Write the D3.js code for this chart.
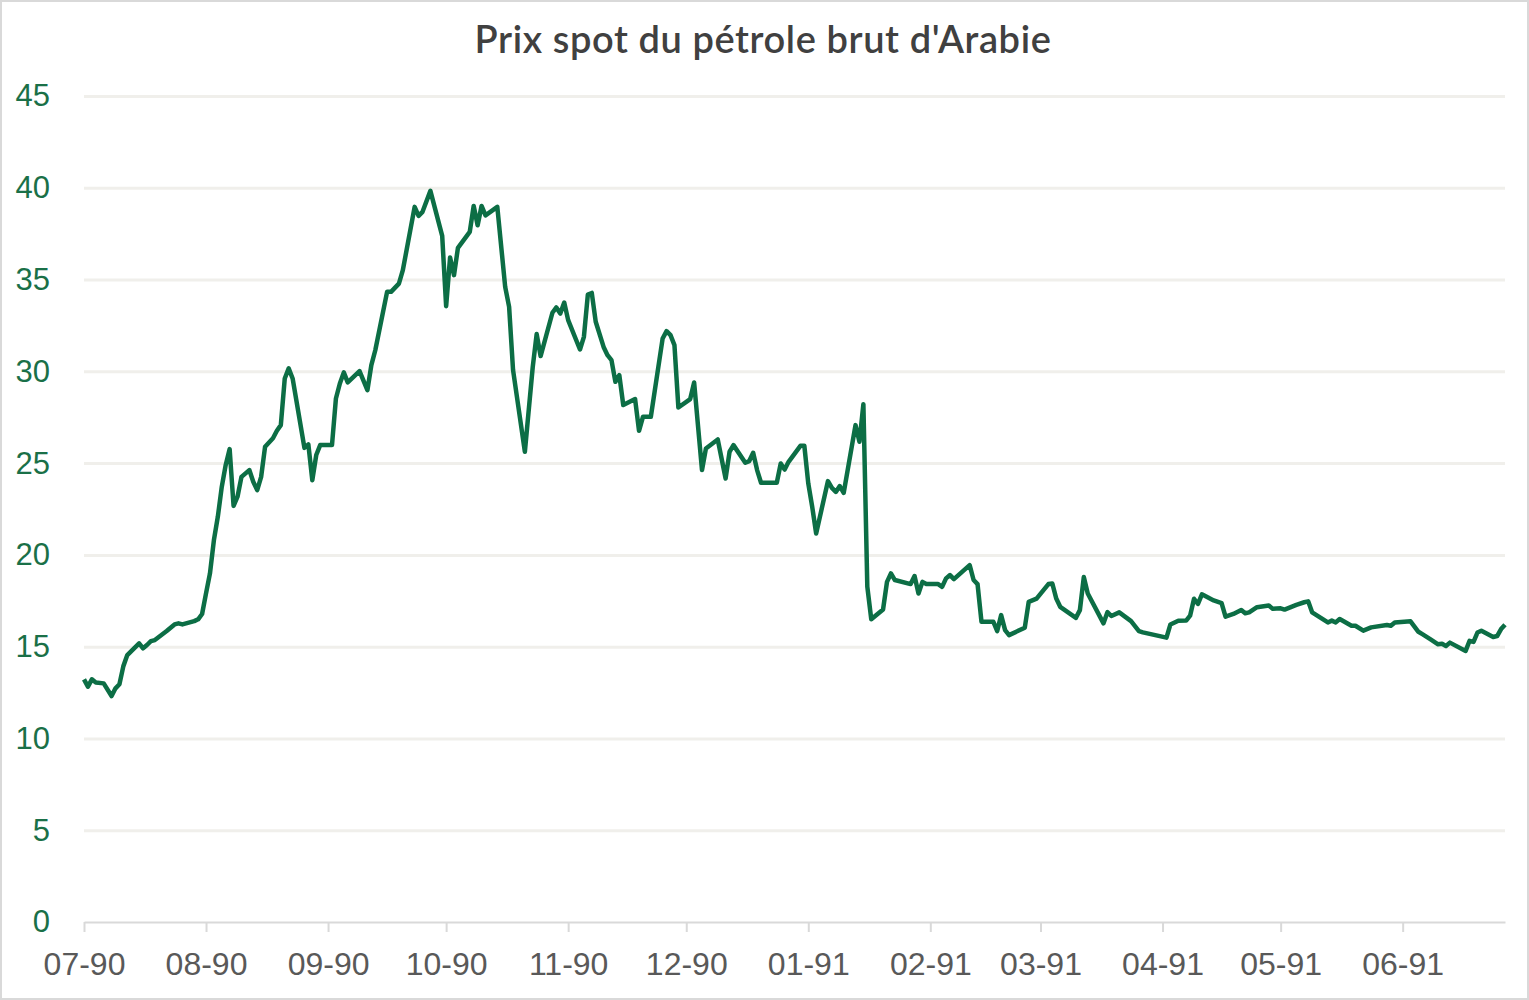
<!DOCTYPE html>
<html>
<head>
<meta charset="utf-8">
<script src="https://cdn.jsdelivr.net/npm/d3@7"></script>
<style>
  html, body { margin: 0; padding: 0; background: #fff; }
  svg { display: block; font-family: "Lato", "Open Sans", sans-serif; }
</style>
</head>
<body>
<div id="container"></div>
<script>
/* DATA */
const title = "Prix spot du pétrole brut d'Arabie";

const dates = [
  "1990-07-01","1990-07-02","1990-07-03","1990-07-04","1990-07-06","1990-07-08","1990-07-09","1990-07-10","1990-07-11","1990-07-12",
  "1990-07-15","1990-07-16","1990-07-17","1990-07-18","1990-07-19","1990-07-22","1990-07-24","1990-07-25","1990-07-26","1990-07-29",
  "1990-07-30","1990-07-31","1990-08-01","1990-08-02","1990-08-03","1990-08-04","1990-08-05","1990-08-06","1990-08-07","1990-08-08",
  "1990-08-09","1990-08-10","1990-08-12","1990-08-13","1990-08-14","1990-08-15","1990-08-16","1990-08-18","1990-08-19","1990-08-20",
  "1990-08-21","1990-08-22","1990-08-23","1990-08-26","1990-08-27","1990-08-28","1990-08-29","1990-08-30","1990-09-02","1990-09-03",
  "1990-09-04","1990-09-05","1990-09-06","1990-09-09","1990-09-11","1990-09-12","1990-09-13","1990-09-16","1990-09-17","1990-09-19",
  "1990-09-20","1990-09-23","1990-09-24","1990-09-25","1990-09-27","1990-09-30","1990-10-01","1990-10-02","1990-10-03","1990-10-04",
  "1990-10-07","1990-10-08","1990-10-09","1990-10-10","1990-10-11","1990-10-14","1990-10-16","1990-10-17","1990-10-18","1990-10-21",
  "1990-10-23","1990-10-24","1990-10-25","1990-10-28","1990-10-29","1990-10-30","1990-10-31","1990-11-01","1990-11-04","1990-11-05",
  "1990-11-06","1990-11-07","1990-11-08","1990-11-10","1990-11-11","1990-11-12","1990-11-13","1990-11-14","1990-11-15","1990-11-18",
  "1990-11-19","1990-11-20","1990-11-22","1990-11-25","1990-11-26","1990-11-27","1990-11-28","1990-11-29","1990-12-02","1990-12-03",
  "1990-12-05","1990-12-06","1990-12-09","1990-12-11","1990-12-12","1990-12-13","1990-12-16","1990-12-17","1990-12-18","1990-12-19",
  "1990-12-20","1990-12-24","1990-12-25","1990-12-26","1990-12-27","1990-12-30","1990-12-31","1991-01-01","1991-01-02","1991-01-03",
  "1991-01-06","1991-01-07","1991-01-08","1991-01-09","1991-01-10","1991-01-13","1991-01-14","1991-01-15","1991-01-16","1991-01-17",
  "1991-01-20","1991-01-21","1991-01-22","1991-01-23","1991-01-27","1991-01-28","1991-01-29","1991-01-30","1991-01-31","1991-02-03",
  "1991-02-04","1991-02-05","1991-02-06","1991-02-07","1991-02-11","1991-02-12","1991-02-13","1991-02-14","1991-02-17","1991-02-18",
  "1991-02-19","1991-02-20","1991-02-21","1991-02-25","1991-02-26","1991-02-28","1991-03-03","1991-03-04","1991-03-05","1991-03-06",
  "1991-03-10","1991-03-11","1991-03-12","1991-03-13","1991-03-17","1991-03-18","1991-03-19","1991-03-21","1991-03-24","1991-03-26",
  "1991-03-27","1991-04-02","1991-04-03","1991-04-05","1991-04-07","1991-04-08","1991-04-09","1991-04-10","1991-04-11","1991-04-14",
  "1991-04-16","1991-04-17","1991-04-19","1991-04-21","1991-04-22","1991-04-23","1991-04-25","1991-04-28","1991-04-29","1991-05-01",
  "1991-05-02","1991-05-05","1991-05-07","1991-05-08","1991-05-09","1991-05-13","1991-05-14","1991-05-15","1991-05-16","1991-05-19",
  "1991-05-20","1991-05-22","1991-05-24","1991-05-28","1991-05-29","1991-05-30","1991-06-03","1991-06-05","1991-06-06","1991-06-08",
  "1991-06-10","1991-06-11","1991-06-12","1991-06-13","1991-06-17","1991-06-18","1991-06-19","1991-06-20","1991-06-21","1991-06-24",
  "1991-06-25","1991-06-26","1991-06-27"
];

const prices = [
  13.22,12.82,13.22,13.05,13.00,12.31,12.73,12.95,13.94,14.54,
  15.18,14.91,15.09,15.30,15.36,15.85,16.21,16.27,16.21,16.39,
  16.49,16.78,17.90,18.99,20.80,22.08,23.71,24.90,25.76,22.67,
  23.17,24.25,24.62,23.98,23.53,24.25,25.89,26.35,26.76,27.07,
  29.61,30.16,29.61,25.83,26.02,24.07,25.44,25.98,25.98,28.52,
  29.34,29.94,29.40,30.01,28.98,30.34,31.15,34.33,34.33,34.78,
  35.51,38.96,38.47,38.69,39.83,37.38,33.55,36.20,35.24,36.73,
  37.60,39.01,37.96,39.01,38.50,38.96,34.60,33.51,30.07,25.62,
  30.24,32.03,30.83,33.19,33.48,33.15,33.75,32.79,31.19,31.88,
  34.18,34.27,32.70,31.33,30.88,30.61,29.43,29.79,28.16,28.49,
  26.76,27.52,27.52,31.79,32.19,31.97,31.43,28.03,28.49,29.39,
  24.62,25.80,26.29,24.16,25.62,25.98,25.02,25.11,25.56,24.62,
  23.93,23.93,24.98,24.65,25.07,25.94,25.94,23.89,22.62,21.17,
  24.02,23.65,23.43,23.75,23.38,27.07,26.16,28.21,18.26,16.49,
  17.03,18.53,18.99,18.63,18.41,18.85,17.90,18.53,18.41,18.41,
  18.26,18.72,18.90,18.68,19.44,18.63,18.41,16.36,16.36,15.85,
  16.72,15.90,15.63,16.03,17.44,17.62,18.41,18.44,17.62,17.17,
  16.57,16.99,18.80,17.90,16.27,16.88,16.67,16.87,16.39,15.85,
  15.78,15.49,16.21,16.41,16.42,16.69,17.61,17.33,17.85,17.52,
  17.37,16.63,16.78,17.00,16.82,16.87,17.15,17.24,17.06,17.09,
  17.02,17.28,17.42,17.47,16.87,16.32,16.42,16.32,16.51,16.14,
  16.14,15.87,16.05,16.18,16.14,16.32,16.38,15.81,15.68,15.41,
  15.13,15.16,15.04,15.22,14.77,15.32,15.26,15.77,15.87,15.53,
  15.58,15.96,16.20
];

const yTicks = [0, 5, 10, 15, 20, 25, 30, 35, 40, 45];
const monthTicks = ["1990-07-01","1990-08-01","1990-09-01","1990-10-01","1990-11-01","1990-12-01",
  "1991-01-01","1991-02-01","1991-03-01","1991-04-01","1991-05-01","1991-06-01"];

/* CONSTANTS */
const width = 1529, height = 1000,
  margin = { top: 96, bottom: 78, left: 84, right: 24 };

const parse = d3.timeParse("%Y-%m-%d");
const data = dates.map((d, i) => ({ date: parse(d), price: prices[i] }));

/* SCALES */
const xScale = d3.scaleTime()
  .domain([parse(dates[0]), parse(dates[dates.length - 1])])
  .range([margin.left, width - margin.right]);

const yScale = d3.scaleLinear()
  .domain([0, 45])
  .range([height - margin.bottom, margin.top]);

/* SVG */
const svg = d3.select("#container")
  .append("svg")
  .attr("width", width)
  .attr("height", height);

svg.append("rect")
  .attr("x", 1).attr("y", 1)
  .attr("width", width - 2).attr("height", height - 2)
  .attr("fill", "#fff")
  .attr("stroke", "#d9d9d9")
  .attr("stroke-width", 2);

// title
svg.append("text")
  .attr("x", 763)
  .attr("y", 53)
  .attr("text-anchor", "middle")
  .style("font-size", "38px")
  .style("font-weight", "600")
  .style("letter-spacing", "0.6px")
  .style("fill", "#404040")
  .text(title);

// gridlines
const yAxis = d3.axisLeft(yScale)
  .tickValues(yTicks)
  .tickSize(-(width - margin.right - margin.left))
  .tickPadding(34)
  .tickFormat(d3.format("d"));

const yG = svg.append("g")
  .attr("transform", `translate(${margin.left},0)`)
  .call(yAxis);
yG.select(".domain").remove();
yG.selectAll(".tick line")
  .attr("stroke", "#f0efeb")
  .attr("stroke-width", 3)
  .filter(d => d === 0).remove();
yG.selectAll(".tick text")
  .attr("fill", "#1a7048")
  .style("font-size", "31px")
  .style("font-weight", "300");

// x axis
const xAxis = d3.axisBottom(xScale)
  .tickValues(monthTicks.map(parse))
  .tickSize(10)
  .tickSizeOuter(0)
  .tickPadding(20)
  .tickFormat(d3.timeFormat("%m-%y"));

const xG = svg.append("g")
  .attr("transform", `translate(0,${height - margin.bottom})`)
  .call(xAxis);
xG.select(".domain").attr("stroke", "#d9d9d9").attr("stroke-width", 2);
xG.selectAll(".tick line").attr("stroke", "#d9d9d9").attr("stroke-width", 2);
xG.selectAll(".tick text")
  .attr("fill", "#595959")
  .style("font-size", "32px")
  .style("font-weight", "300");

// line
const line = d3.line()
  .x(d => xScale(d.date))
  .y(d => yScale(d.price));

svg.append("path")
  .datum(data)
  .attr("fill", "none")
  .attr("stroke", "#0c6e45")
  .attr("stroke-width", 4.5)
  .attr("stroke-linejoin", "round")
  .attr("d", line);
</script>
</body>
</html>
